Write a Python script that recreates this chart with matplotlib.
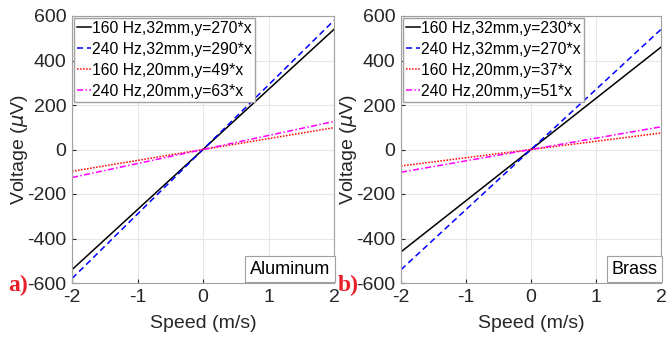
import numpy as np
import matplotlib.pyplot as plt

plt.rcParams['font.family'] = ['Liberation Sans', 'DejaVu Sans']
plt.rcParams['axes.unicode_minus'] = False

speed = [-2, 2]
labels_al = ['160 Hz,32mm,y=270*x', '240 Hz,32mm,y=290*x',
             '160 Hz,20mm,y=49*x', '240 Hz,20mm,y=63*x']
slopes_al = [270, 290, 49, 63]
labels_br = ['160 Hz,32mm,y=230*x', '240 Hz,32mm,y=270*x',
             '160 Hz,20mm,y=37*x', '240 Hz,20mm,y=51*x']
slopes_br = [230, 270, 37, 51]

colors = ['black', 'blue', 'red', 'magenta']
styles = ['-', (0, (4, 2.5)), (0, (1, 1)), (0, (4, 1.5, 1, 1.5))]

W, H = 669, 339
fig = plt.figure(figsize=(W / 100, H / 100), dpi=100)
ax1 = fig.add_axes([72 / W, 56 / H, 262 / W, 267 / H])
ax2 = fig.add_axes([401 / W, 56 / H, 260 / W, 267 / H])

tc = '#262626'
for ax, slopes, labels, name, tag in [(ax1, slopes_al, labels_al, 'Aluminum', 'a)'),
                                      (ax2, slopes_br, labels_br, 'Brass', 'b)')]:
    x = np.array(speed)
    for k, lab, c, ls in zip(slopes, labels, colors, styles):
        ax.plot(x, k * x, color=c, linestyle=ls, linewidth=1.1, label=lab)
    ax.set_xlim(-2, 2)
    ax.set_ylim(-600, 600)
    ax.set_xticks([-2, -1, 0, 1, 2])
    ax.set_yticks([-600, -400, -200, 0, 200, 400, 600])
    ax.grid(True, color='#e6e6e6', linewidth=0.8)
    ax.tick_params(direction='in', length=3, labelsize=14, colors=tc, pad=4)
    for s in ax.spines.values():
        s.set_color('#a0a0a0')
        s.set_linewidth(0.8)
    ax.set_xlabel('Speed (m/s)', fontsize=14, color=tc, labelpad=7)
    ax.set_ylabel(r'Voltage ($\mu$V)', fontsize=14, color=tc, labelpad=-2)
    leg = ax.legend(loc='upper left', fontsize=11.3, handlelength=0.9, handletextpad=0.1,
                    borderaxespad=0.1, borderpad=0.2, labelspacing=0.38, fancybox=False,
                    framealpha=1)
    leg.get_frame().set_edgecolor('#a0a0a0')
    ax.text(0.985, 0.02, name, transform=ax.transAxes, ha='right', va='bottom',
            fontsize=13, color='black',
            bbox=dict(boxstyle='square,pad=0.25', fc='white', ec='#a0a0a0', lw=0.8))
    ax.text(-0.245, -0.01, tag, transform=ax.transAxes, ha='left', va='center',
            fontsize=17, color='#e8202a', fontweight='bold',
            family=['Liberation Serif', 'DejaVu Serif'])

fig.savefig('out.png', dpi=100)
